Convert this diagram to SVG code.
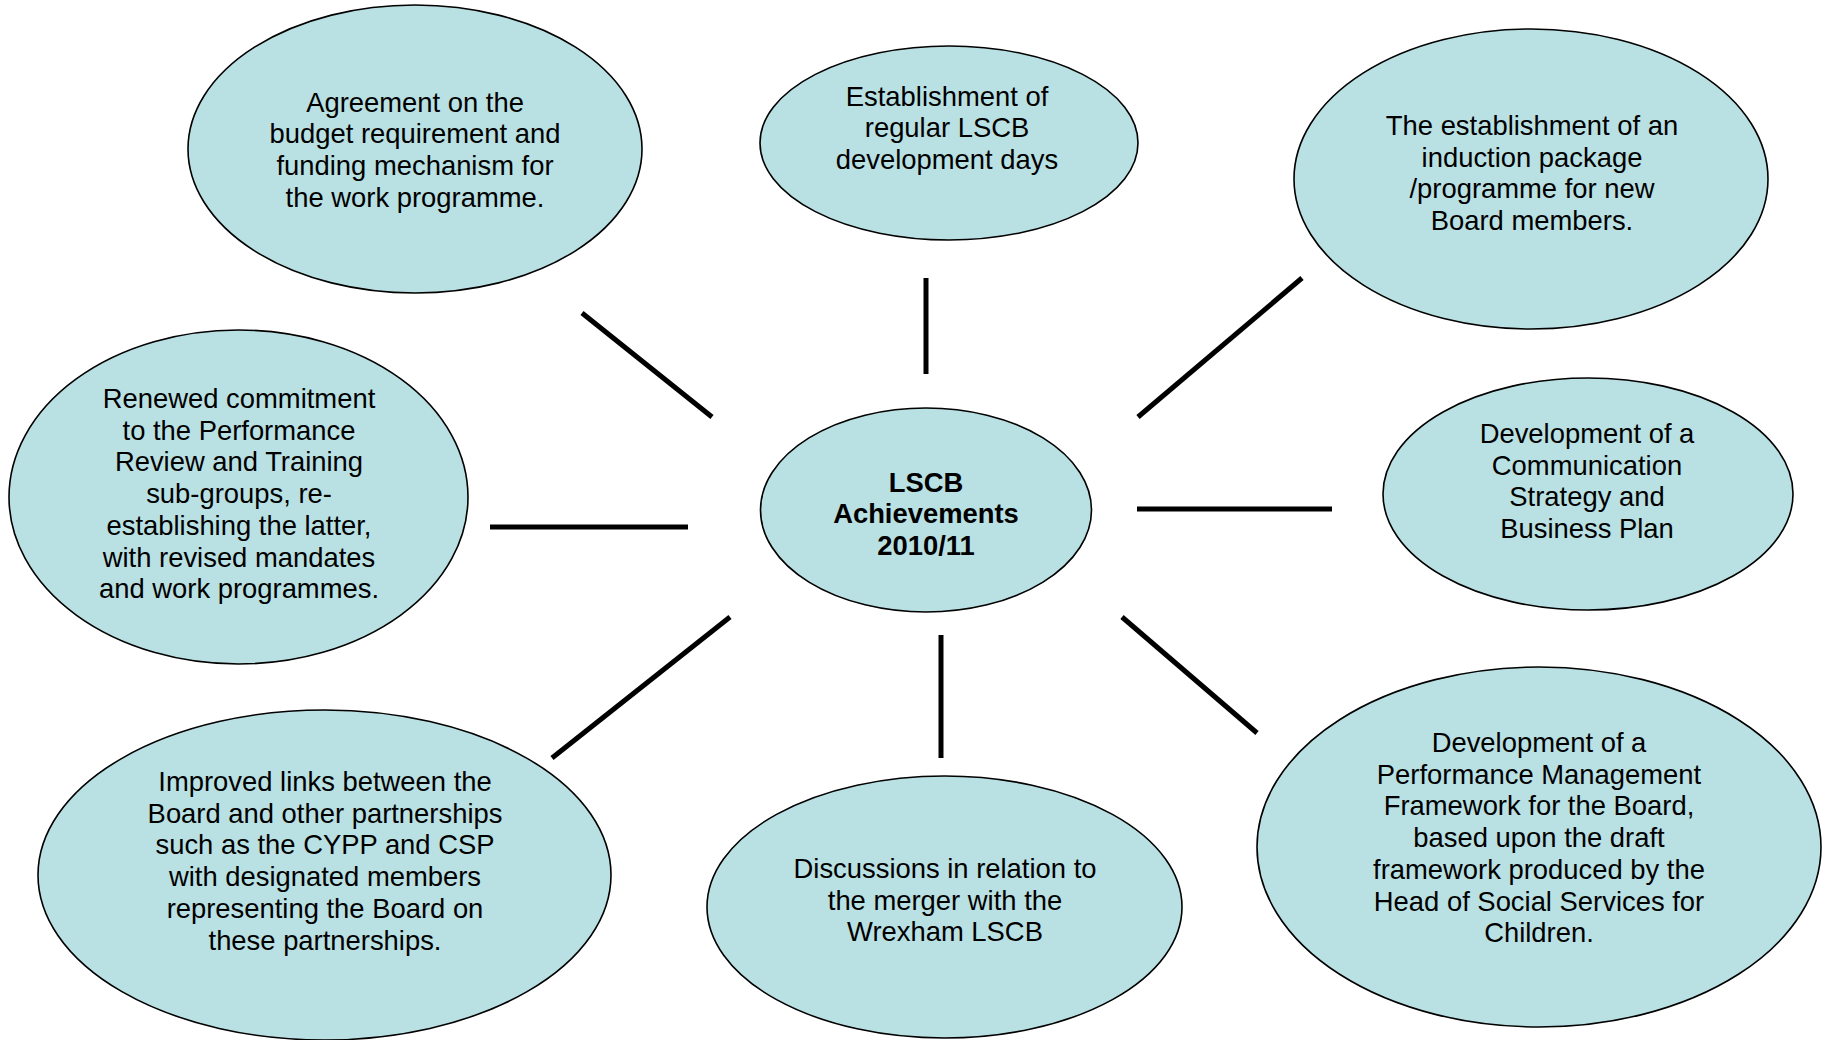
<svg xmlns="http://www.w3.org/2000/svg" width="1826" height="1040" viewBox="0 0 1826 1040">
  <style>
    .bubble { fill: #B9E0E3; stroke: #000; stroke-width: 1.6; }
    .label { font-family: "Liberation Sans", Arial, sans-serif; font-size: 27.4px; fill: #000; text-anchor: middle; }
    .hub { font-weight: bold; }
    .spoke { stroke: #000; stroke-width: 5; stroke-linecap: butt; }
  </style>
  <rect width="1826" height="1040" fill="#fff"/>

  <!-- spokes radiating from the hub -->
  <g id="connectors">
    <line class="spoke" x1="582" y1="313" x2="712" y2="417"/>
    <line class="spoke" x1="926" y1="278" x2="926" y2="374"/>
    <line class="spoke" x1="1302" y1="278" x2="1138" y2="417"/>
    <line class="spoke" x1="490" y1="527" x2="688" y2="527"/>
    <line class="spoke" x1="1137" y1="509" x2="1332" y2="509"/>
    <line class="spoke" x1="730" y1="617" x2="552" y2="758"/>
    <line class="spoke" x1="941" y1="635" x2="941" y2="758"/>
    <line class="spoke" x1="1122" y1="617" x2="1257" y2="733"/>
  </g>

  <g id="hub">
    <ellipse class="bubble" cx="926" cy="510" rx="165.5" ry="102"/>
    <text class="label hub" x="926" y="491.5">LSCB</text>
    <text class="label hub" x="926" y="523.2">Achievements</text>
    <text class="label hub" x="926" y="554.9">2010/11</text>
  </g>

  <g id="budget">
    <ellipse class="bubble" cx="415" cy="149" rx="227" ry="144"/>
    <text class="label" x="415" y="111.5">Agreement on the</text>
    <text class="label" x="415" y="143.2">budget requirement and</text>
    <text class="label" x="415" y="174.9">funding mechanism for</text>
    <text class="label" x="415" y="206.6">the work programme.</text>
  </g>

  <g id="development-days">
    <ellipse class="bubble" cx="949" cy="143" rx="189" ry="97"/>
    <text class="label" x="947" y="105.5">Establishment of</text>
    <text class="label" x="947" y="137.2">regular LSCB</text>
    <text class="label" x="947" y="168.9">development days</text>
  </g>

  <g id="induction">
    <ellipse class="bubble" cx="1531" cy="179" rx="237" ry="150"/>
    <text class="label" x="1532" y="135">The establishment of an</text>
    <text class="label" x="1532" y="166.7">induction package</text>
    <text class="label" x="1532" y="198.4">/programme for new</text>
    <text class="label" x="1532" y="230.1">Board members.</text>
  </g>

  <g id="sub-groups">
    <ellipse class="bubble" cx="238.5" cy="497" rx="229.5" ry="167"/>
    <text class="label" x="239" y="408">Renewed commitment</text>
    <text class="label" x="239" y="439.7">to the Performance</text>
    <text class="label" x="239" y="471.4">Review and Training</text>
    <text class="label" x="239" y="503.1">sub-groups, re-</text>
    <text class="label" x="239" y="534.8">establishing the latter,</text>
    <text class="label" x="239" y="566.5">with revised mandates</text>
    <text class="label" x="239" y="598.2">and work programmes.</text>
  </g>

  <g id="communication">
    <ellipse class="bubble" cx="1588" cy="494" rx="205" ry="116"/>
    <text class="label" x="1587" y="443">Development of a</text>
    <text class="label" x="1587" y="474.7">Communication</text>
    <text class="label" x="1587" y="506.4">Strategy and</text>
    <text class="label" x="1587" y="538.1">Business Plan</text>
  </g>

  <g id="partnerships">
    <ellipse class="bubble" cx="324.5" cy="875" rx="286.5" ry="165"/>
    <text class="label" x="325" y="791">Improved links between the</text>
    <text class="label" x="325" y="822.7">Board and other partnerships</text>
    <text class="label" x="325" y="854.4">such as the CYPP and CSP</text>
    <text class="label" x="325" y="886.1">with designated members</text>
    <text class="label" x="325" y="917.8">representing the Board on</text>
    <text class="label" x="325" y="949.5">these partnerships.</text>
  </g>

  <g id="merger">
    <ellipse class="bubble" cx="944.5" cy="907" rx="237.5" ry="131"/>
    <text class="label" x="945" y="878">Discussions in relation to</text>
    <text class="label" x="945" y="909.7">the merger with the</text>
    <text class="label" x="945" y="941.4">Wrexham LSCB</text>
  </g>

  <g id="performance-framework">
    <ellipse class="bubble" cx="1539" cy="847" rx="282" ry="180"/>
    <text class="label" x="1539" y="752">Development of a</text>
    <text class="label" x="1539" y="783.7">Performance Management</text>
    <text class="label" x="1539" y="815.4">Framework for the Board,</text>
    <text class="label" x="1539" y="847.1">based upon the draft</text>
    <text class="label" x="1539" y="878.8">framework produced by the</text>
    <text class="label" x="1539" y="910.5">Head of Social Services for</text>
    <text class="label" x="1539" y="942.2">Children.</text>
  </g>
</svg>
